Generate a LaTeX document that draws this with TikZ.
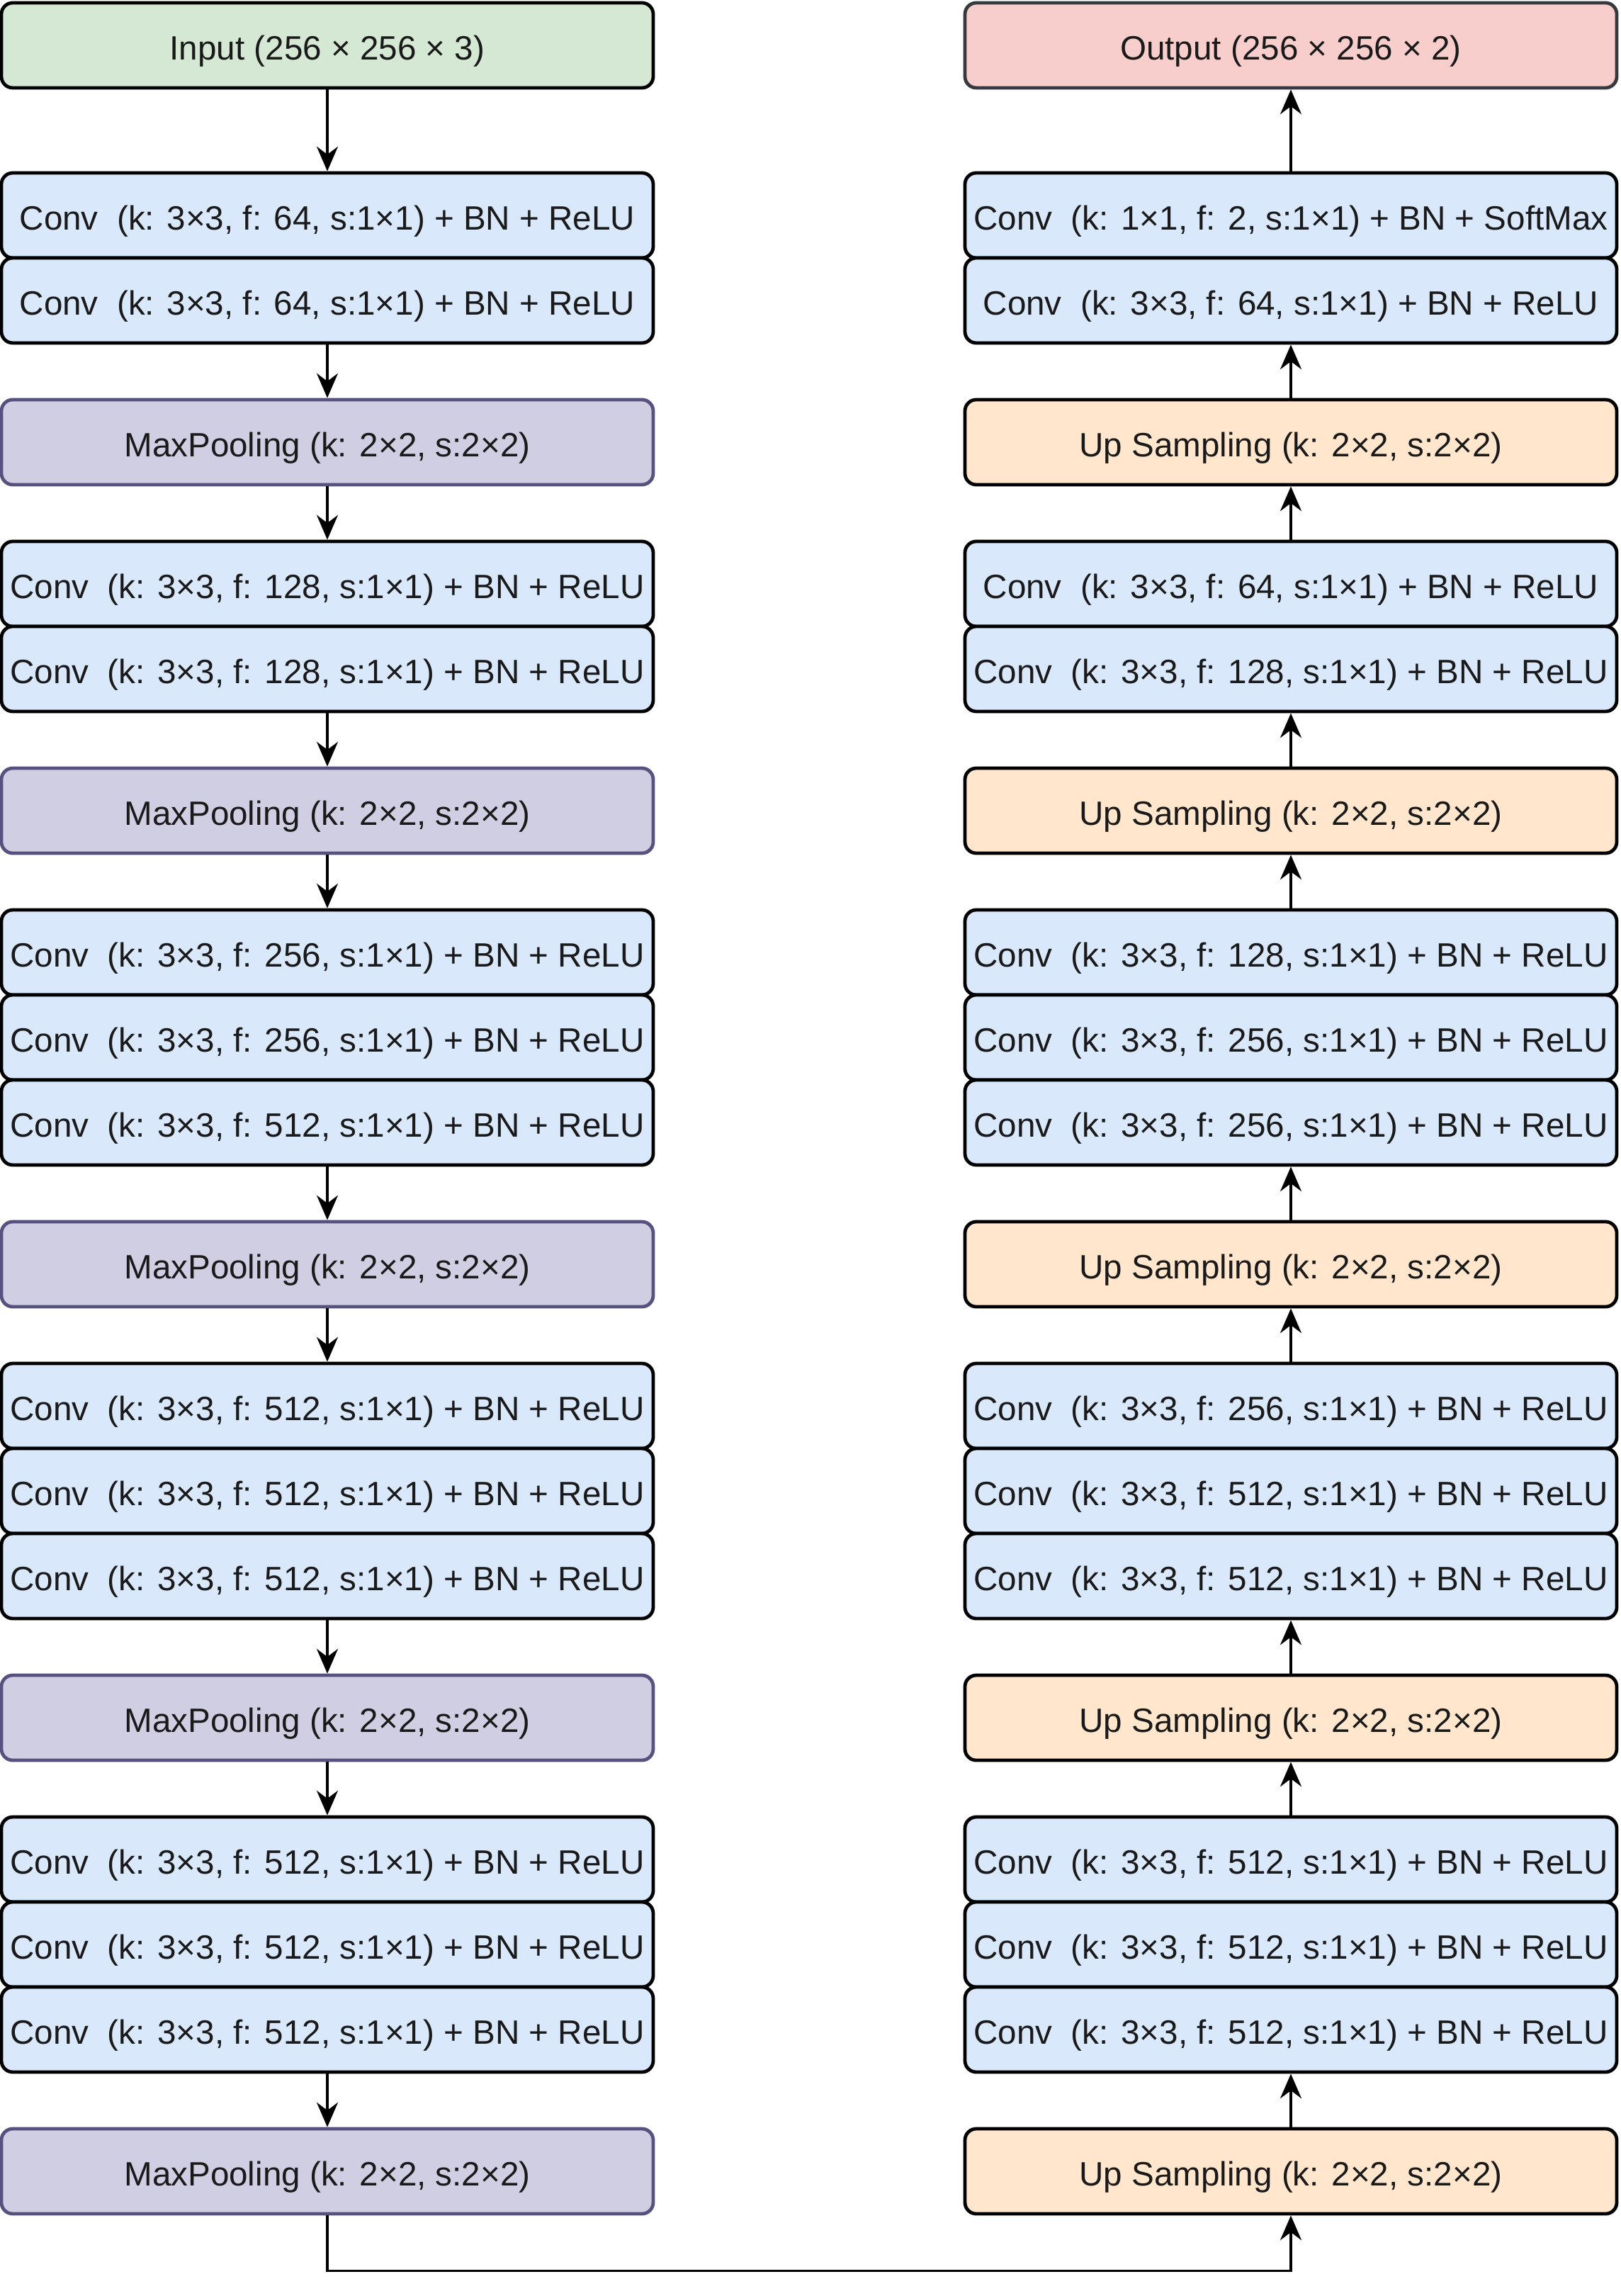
\documentclass[tikz,border=0pt]{standalone}
\usepackage{fontspec}
\setmainfont{Liberation Sans}
\usetikzlibrary{arrows.meta}
\definecolor{convfill}{HTML}{DAE8FC}
\definecolor{poolfill}{HTML}{D0CEE2}
\definecolor{pooldraw}{HTML}{56517E}
\definecolor{upfill}{HTML}{FFE6CC}
\definecolor{infill}{HTML}{D5E8D4}
\definecolor{outfill}{HTML}{F8CECC}
\definecolor{outdraw}{HTML}{36393D}
\definecolor{txt}{HTML}{1A1A1A}
\begin{document}
\begin{tikzpicture}[x=1pt,y=1pt,
  layer/.style={rectangle, rounded corners=4pt, minimum width=230pt, minimum height=30pt,
    inner sep=0pt, line width=1.2pt, text=txt, text height=12.8pt, text depth=2.6pt,
    font=\fontsize{11.9}{14}\selectfont},
  convbox/.style={layer, draw=black, fill=convfill},
  poolbox/.style={layer, draw=pooldraw, fill=poolfill},
  upbox/.style={layer, draw=black, fill=upfill},
  inbox/.style={layer, draw=black, fill=infill},
  outbox/.style={layer, draw=outdraw, fill=outfill},
  flow/.style={line width=0.9pt, -{Stealth[length=8.7pt, width=7.5pt, inset=2.8pt]}}]
\useasboundingbox (0,0) rectangle (572,-810);

% encoder
\node[inbox]   (in)  at (115.5,-16)  {Input (256 × 256 × 3)};
\node[convbox] (L1)  at (115.5,-76)  {Conv~~(k: 3×3, f: 64, s:1×1) + BN + ReLU};
\node[convbox] (L2)  at (115.5,-106) {Conv~~(k: 3×3, f: 64, s:1×1) + BN + ReLU};
\node[poolbox] (P1)  at (115.5,-156) {MaxPooling (k: 2×2, s:2×2)};
\node[convbox] (L3)  at (115.5,-206) {Conv~~(k: 3×3, f: 128, s:1×1) + BN + ReLU};
\node[convbox] (L4)  at (115.5,-236) {Conv~~(k: 3×3, f: 128, s:1×1) + BN + ReLU};
\node[poolbox] (P2)  at (115.5,-286) {MaxPooling (k: 2×2, s:2×2)};
\node[convbox] (L5)  at (115.5,-336) {Conv~~(k: 3×3, f: 256, s:1×1) + BN + ReLU};
\node[convbox] (L6)  at (115.5,-366) {Conv~~(k: 3×3, f: 256, s:1×1) + BN + ReLU};
\node[convbox] (L7)  at (115.5,-396) {Conv~~(k: 3×3, f: 512, s:1×1) + BN + ReLU};
\node[poolbox] (P3)  at (115.5,-446) {MaxPooling (k: 2×2, s:2×2)};
\node[convbox] (L8)  at (115.5,-496) {Conv~~(k: 3×3, f: 512, s:1×1) + BN + ReLU};
\node[convbox] (L9)  at (115.5,-526) {Conv~~(k: 3×3, f: 512, s:1×1) + BN + ReLU};
\node[convbox] (L10) at (115.5,-556) {Conv~~(k: 3×3, f: 512, s:1×1) + BN + ReLU};
\node[poolbox] (P4)  at (115.5,-606) {MaxPooling (k: 2×2, s:2×2)};
\node[convbox] (L11) at (115.5,-656) {Conv~~(k: 3×3, f: 512, s:1×1) + BN + ReLU};
\node[convbox] (L12) at (115.5,-686) {Conv~~(k: 3×3, f: 512, s:1×1) + BN + ReLU};
\node[convbox] (L13) at (115.5,-716) {Conv~~(k: 3×3, f: 512, s:1×1) + BN + ReLU};
\node[poolbox] (P5)  at (115.5,-766) {MaxPooling (k: 2×2, s:2×2)};

% decoder
\node[outbox]  (out) at (455.5,-16)  {Output (256 × 256 × 2)};
\node[convbox] (R1)  at (455.5,-76)  {Conv~~(k: 1×1, f: 2, s:1×1) + BN + SoftMax};
\node[convbox] (R2)  at (455.5,-106) {Conv~~(k: 3×3, f: 64, s:1×1) + BN + ReLU};
\node[upbox]   (U1)  at (455.5,-156) {Up Sampling (k: 2×2, s:2×2)};
\node[convbox] (R3)  at (455.5,-206) {Conv~~(k: 3×3, f: 64, s:1×1) + BN + ReLU};
\node[convbox] (R4)  at (455.5,-236) {Conv~~(k: 3×3, f: 128, s:1×1) + BN + ReLU};
\node[upbox]   (U2)  at (455.5,-286) {Up Sampling (k: 2×2, s:2×2)};
\node[convbox] (R5)  at (455.5,-336) {Conv~~(k: 3×3, f: 128, s:1×1) + BN + ReLU};
\node[convbox] (R6)  at (455.5,-366) {Conv~~(k: 3×3, f: 256, s:1×1) + BN + ReLU};
\node[convbox] (R7)  at (455.5,-396) {Conv~~(k: 3×3, f: 256, s:1×1) + BN + ReLU};
\node[upbox]   (U3)  at (455.5,-446) {Up Sampling (k: 2×2, s:2×2)};
\node[convbox] (R8)  at (455.5,-496) {Conv~~(k: 3×3, f: 256, s:1×1) + BN + ReLU};
\node[convbox] (R9)  at (455.5,-526) {Conv~~(k: 3×3, f: 512, s:1×1) + BN + ReLU};
\node[convbox] (R10) at (455.5,-556) {Conv~~(k: 3×3, f: 512, s:1×1) + BN + ReLU};
\node[upbox]   (U4)  at (455.5,-606) {Up Sampling (k: 2×2, s:2×2)};
\node[convbox] (R11) at (455.5,-656) {Conv~~(k: 3×3, f: 512, s:1×1) + BN + ReLU};
\node[convbox] (R12) at (455.5,-686) {Conv~~(k: 3×3, f: 512, s:1×1) + BN + ReLU};
\node[convbox] (R13) at (455.5,-716) {Conv~~(k: 3×3, f: 512, s:1×1) + BN + ReLU};
\node[upbox]   (U5)  at (455.5,-766) {Up Sampling (k: 2×2, s:2×2)};

% encoder flow
\draw[flow] (in.south)  -- (L1.north);
\draw[flow] (L2.south)  -- (P1.north);
\draw[flow] (P1.south)  -- (L3.north);
\draw[flow] (L4.south)  -- (P2.north);
\draw[flow] (P2.south)  -- (L5.north);
\draw[flow] (L7.south)  -- (P3.north);
\draw[flow] (P3.south)  -- (L8.north);
\draw[flow] (L10.south) -- (P4.north);
\draw[flow] (P4.south)  -- (L11.north);
\draw[flow] (L13.south) -- (P5.north);

% bridge
\draw[flow] (P5.south) -- ++(0,-19.5) -| (U5.south);

% decoder flow
\draw[flow] (U5.north)  -- (R13.south);
\draw[flow] (R11.north) -- (U4.south);
\draw[flow] (U4.north)  -- (R10.south);
\draw[flow] (R8.north)  -- (U3.south);
\draw[flow] (U3.north)  -- (R7.south);
\draw[flow] (R5.north)  -- (U2.south);
\draw[flow] (U2.north)  -- (R4.south);
\draw[flow] (R3.north)  -- (U1.south);
\draw[flow] (U1.north)  -- (R2.south);
\draw[flow] (R1.north)  -- (out.south);
\end{tikzpicture}
\end{document}
